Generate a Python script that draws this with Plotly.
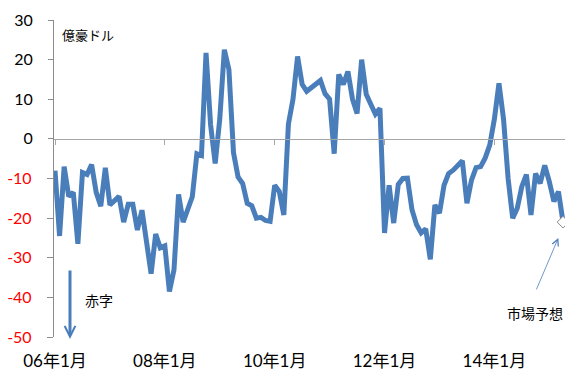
import pandas as pd
import plotly.graph_objects as go

# Monthly balance, 2006-01 .. 2015-04 (last value is the market forecast)
months = [str(p) for p in pd.period_range("2006-01", periods=112, freq="M")]
balance = [
    -8, -24.5, -7, -14.5, -13.5, -26.5, -8.5, -9, -6.5, -13.5, -17, -7.3,
    -16.7, -15.5, -14.5, -21, -16.5, -16.5, -23, -18, -26, -34, -24, -27.5,
    -27, -38.5, -33, -14, -21, -17.5, -14.6, -3.75, -4.2, 21.7, 3.5, -6.2,
    5, 22.5, 17.5, -3.5, -9.6, -11.25, -16.25, -16.9, -20, -19.8, -20.6, -20.8,
    -11.7, -13.3, -19.2, 3.75, 10, 20.8, 13.75, 12, 12.9, 14, 14.75, 11.4,
    10, -3.75, 16.25, 13.75, 17, 10, 6.4, 20, 11.25, 8.75, 6.25, 7.7,
    -23.75, -11.7, -21.25, -11.5, -10, -9.9, -17.9, -21.7, -23.7, -22.7, -30.4, -16.7,
    -18.75, -11.7, -8.75, -7.9, -6.5, -5.5, -16.25, -10.4, -7.25, -7, -4.8, -1.5,
    5, 14, 5, -10, -20, -17.5, -12, -9, -19.2, -8.75, -11.25, -6.7,
    -10.8, -15.8, -13.3, -21,
]

x_tick_months = ["2006-01", "2008-01", "2010-01", "2012-01", "2014-01"]
x_tick_labels = ["06年1月", "08年1月", "10年1月", "12年1月", "14年1月"]
y_ticks_pos = [30, 20, 10, 0]
y_ticks_neg = [-10, -20, -30, -40, -50]

BLUE = "#4a7ebb"
AXIS_GRAY = "#8c8c8c"
FONT = "Lato, 'Noto Sans CJK JP', sans-serif"

x_range = [-0.218, 111.43]
y_range = [-50, 30]

fig = go.Figure()

fig.add_trace(go.Scatter(
    x=months, y=balance, mode="lines",
    line=dict(color=BLUE, width=5),
    hoverinfo="skip", showlegend=False,
))

# forecast point
fig.add_trace(go.Scatter(
    x=months[-1:], y=balance[-1:], mode="markers",
    marker=dict(symbol="diamond", size=9, color="white",
                line=dict(color="#8a8a8a", width=1)),
    hoverinfo="skip", showlegend=False,
))

# carrier for the axis drawn through zero and the black positive labels
fig.add_trace(go.Scatter(
    x=months, y=balance, mode="lines", xaxis="x2", yaxis="y2",
    line=dict(width=0, color="rgba(0,0,0,0)"),
    hoverinfo="skip", showlegend=False,
))

common_y = dict(
    range=y_range, showgrid=False, zeroline=False,
    ticks="outside", ticklen=6, tickwidth=1, tickcolor=AXIS_GRAY,
    ticklabelstandoff=12,
)

fig.update_layout(
    width=566, height=372,
    margin=dict(l=54, r=1, t=20, b=32),
    paper_bgcolor="white", plot_bgcolor="white",
    font=dict(family=FONT, color="black"),
    xaxis=dict(
        type="category", range=x_range,
        showline=False, showgrid=False, zeroline=False,
        ticks="", tickvals=x_tick_months, ticktext=x_tick_labels,
        tickfont=dict(size=17, family=FONT, color="black"),
        ticklabelstandoff=12,
    ),
    xaxis2=dict(
        type="category", range=x_range, overlaying="x",
        anchor="free", position=0.625, side="bottom",
        showline=True, linecolor="#a6a6a6", linewidth=1.3,
        showgrid=False, zeroline=False,
        ticks="outside", ticklen=5, tickwidth=1, tickcolor="#a6a6a6",
        tickvals=x_tick_months, showticklabels=False,
    ),
    yaxis=dict(
        **common_y,
        showline=True, linecolor=AXIS_GRAY, linewidth=1.3,
        tickvals=y_ticks_neg, ticktext=[str(v) for v in y_ticks_neg],
        tickfont=dict(size=16, family=FONT, color="#ff0000"),
    ),
    yaxis2=dict(
        **common_y,
        overlaying="y", anchor="free", position=0, side="left",
        showline=False,
        tickvals=y_ticks_pos, ticktext=[str(v) for v in y_ticks_pos],
        tickfont=dict(size=16, family=FONT, color="black"),
    ),
)

fig.add_annotation(
    text="億豪ドル", xref="paper", yref="paper", x=0.012, y=0.953,
    xanchor="left", yanchor="middle", showarrow=False,
    font=dict(size=13, family=FONT, color="black"),
)
fig.add_annotation(
    text="赤字", xref="paper", yref="paper", x=0.057, y=0.115,
    xanchor="left", yanchor="middle", showarrow=False,
    font=dict(size=14, family=FONT, color="black"),
)
fig.add_annotation(
    text="", xref="paper", yref="paper", x=0.0313, y=-0.006,
    showarrow=True, ax=0, ay=-70, axref="pixel", ayref="pixel",
    arrowhead=5, arrowsize=0.7, arrowwidth=3, arrowcolor=BLUE,
)
fig.add_annotation(
    text="市場予想", xref="paper", yref="paper", x=0.941, y=0.075,
    xanchor="center", yanchor="middle", showarrow=False,
    font=dict(size=14, family=FONT, color="black"),
)
fig.add_annotation(
    text="", xref="paper", yref="paper", x=0.987, y=0.3125,
    showarrow=True, ax=-22.6, ay=53, axref="pixel", ayref="pixel",
    arrowhead=5, arrowsize=1.6, arrowwidth=0.8, arrowcolor=BLUE,
)

fig.write_html("out.html")
